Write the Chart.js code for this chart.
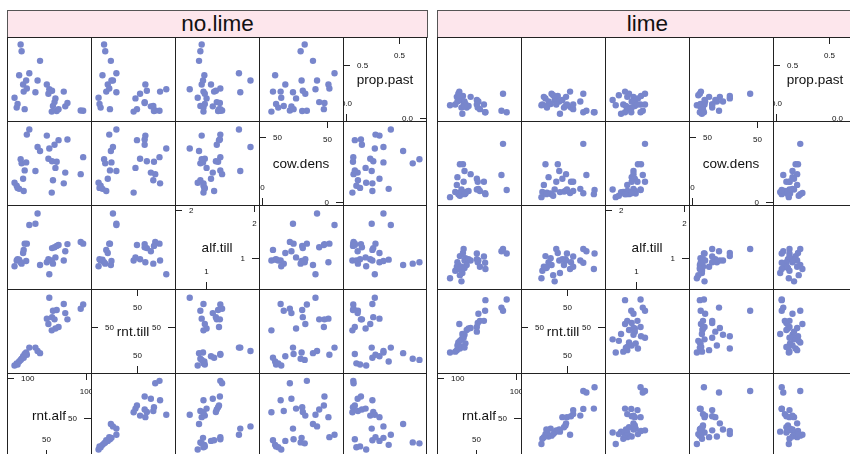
<!DOCTYPE html>
<html>
<head>
<meta charset="utf-8">
<script src="https://cdn.jsdelivr.net/npm/chart.js@4.4.1/dist/chart.umd.min.js"></script>
<style>
  body { margin: 0; background: #fff; width: 850px; height: 454px; overflow: hidden; position: relative;
         font-family: "Liberation Sans", Arial, sans-serif; }
  .strip { position: absolute; top: 10px; height: 28px; width: 421px; box-sizing: border-box;
           background: #fde6ec; border: 1px solid #555; text-align: center;
           font-size: 22.5px; line-height: 26px; color: #111; }
  canvas { position: absolute; }
</style>
</head>
<body>
<div class="strip" style="left:7px">no.lime</div>
<div class="strip" style="left:437px">lime</div>
<script>
// variables, bottom-left to top-right of each scatterplot matrix
const varNames = ['rnt.alf', 'rnt.till', 'alf.till', 'cow.dens', 'prop.past'];
const groupNames = ['no.lime', 'lime'];

// no.lime
const noLimeRntAlf = [54.4, 73.8, 99.8, 96.5, 59.3, 64.3, 75.8, 51.1, 58.1, 61.4, 78.7, 53.2, 66.8, 62.6, 57.7,
  7.8, 10.7, 14.0, 17.3, 19.3, 21.4, 23.4, 27.6, 35.8, 38.7, 42.0, 20.1, 16.0, 11.9, 24.3];
const noLimeRntTill = [75.7, 70.3, 69.8, 66.1, 64.4, 65.0, 62.3, 57.5, 58.8, 56.9, 56.9, 52.9, 50.2, 48.9, 47.3,
  16.8, 18.6, 20.2, 22.6, 24.8, 26.7, 28.0, 32.3, 32.3, 29.3, 27.5, 23.5, 21.6, 17.6, 26.1];
const noLimeAlfTill = [0.62, 0.93, 1.31, 1.35, 0.86, 1.26, 1.14, 0.89, 1.21, 1.23, 1.30, 0.96, 1.28, 1.00, 0.93,
  0.80, 0.93, 0.95, 0.86, 1.10, 1.31, 0.92, 1.73, 1.76, 1.99, 0.83, 1.17, 0.89, 0.96, 1.31];
const noLimeCowDens = [42.2, 13.1, 35.0, 20.8, 15.7, 31.1, 22.1, 53.0, 31.6, 45.3, 49.7, 33.7, 49.2, 26.0, 5.4,
  13.6, 11.1, 8.5, 29.8, 17.0, 23.9, 30.6, 58.1, 23.4, 43.5, 40.1, 6.7, 33.2, 9.3, 53.8];
const noLimePropPast = [0.265, 0.240, 0.043, 0.046, 0.091, 0.040, 0.088, 0.313, 0.249, 0.132, 0.122, 0.218, 0.059, 0.170, 0.034,
  0.176, 0.075, 0.408, 0.656, 0.313, 0.059, 0.354, 0.430, 0.233, 0.354, 0.557, 0.240, 0.725, 0.113, 0.272];

// lime
const limeRntAlf = [15.2, 22.2, 24.3, 28.4, 25.1, 26.3, 27.6, 30.5, 32.5, 31.7, 34.6, 35.8, 37.5, 40.0, 42.8,
  33.4, 28.4, 30.5, 34.6, 51.1, 51.1, 52.3, 53.2, 55.2, 60.6, 62.2, 62.6, 84.1, 86.2, 91.1];
const limeRntTill = [28.0, 28.8, 30.1, 31.5, 34.2, 36.8, 52.9, 39.5, 42.2, 44.1, 43.5, 36.0, 47.6, 48.9, 49.4,
  40.9, 38.2, 32.8, 32.3, 46.2, 50.2, 53.7, 61.8, 55.6, 55.6, 64.4, 73.6, 67.1, 64.4, 74.2];
const limeAlfTill = [0.53, 0.70, 0.79, 1.03, 0.89, 0.83, 0.74, 0.46, 1.10, 0.65, 0.93, 0.98, 0.83, 0.96, 0.93,
  1.19, 0.60, 0.79, 0.76, 0.96, 1.09, 0.89, 0.93, 0.79, 1.02, 0.88, 0.74, 1.14, 1.19, 1.09];
const limeCowDens = [1.6, 5.9, 11.8, 29.1, 18.3, 4.1, 5.0, 8.0, 29.1, 5.8, 23.4, 4.6, 6.2, 6.7, 20.8,
  14.4, 2.8, 5.2, 4.1, 17.0, 8.0, 14.4, 8.5, 6.7, 14.4, 4.8, 4.1, 20.1, 46.1, 7.5];
const limePropPast = [0.100, 0.107, 0.186, 0.170, 0.138, 0.218, 0.240, 0.154, 0.195, 0.011, 0.138, 0.113, 0.075, 0.091, 0.186,
  0.107, 0.202, 0.075, 0.091, 0.154, 0.107, 0.075, 0.138, 0.059, 0.107, 0.027, 0.027, 0.043, 0.218, 0.027];

// axis limits and tick labels per variable (same order as varNames)
const varLimits = [[2, 106], [13, 80.5], [0.36, 2.11], [-2.3, 62.5], [-0.03, 0.77]];
const varTicks = [[50, 100], [50], [1, 2], [0, 50], [0, 0.5]];
const varTickLabels = [['50', '100'], ['50'], ['1', '2'], ['0', '50'], ['0.0', '0.5']];

const groupData = [
  [noLimeRntAlf, noLimeRntTill, noLimeAlfTill, noLimeCowDens, noLimePropPast],
  [limeRntAlf, limeRntTill, limeAlfTill, limeCowDens, limePropPast]
];

const groupLeft = [7, 437];
const top0 = 37;
const cell = 84;
const dotColor = '#7886cc';
const lineColor = '#222';
const FONT = '"Liberation Sans", Arial, sans-serif';

const framePlugin = {
  id: 'frame',
  afterDraw(chart, args, opts) {
    const { ctx, width, height } = chart;
    ctx.save();
    ctx.strokeStyle = lineColor;
    ctx.lineWidth = 1;
    ctx.beginPath();
    ctx.moveTo(0.5, 0); ctx.lineTo(0.5, height);
    ctx.moveTo(0, 0.5); ctx.lineTo(width, 0.5);
    if (opts.lastCol) { ctx.moveTo(width - 0.5, 0); ctx.lineTo(width - 0.5, height); }
    if (opts.lastRow) { ctx.moveTo(0, height - 0.5); ctx.lineTo(width, height - 0.5); }
    ctx.stroke();
    ctx.restore();
  }
};

const diagPlugin = {
  id: 'diag',
  afterDraw(chart, args, opts) {
    if (opts.v === undefined) return;
    const { ctx, chartArea: a, scales: { x, y } } = chart;
    const v = opts.v;
    const w = a.right, h = a.bottom;
    ctx.save();
    ctx.fillStyle = '#111';
    ctx.font = '13.5px ' + FONT;
    ctx.textAlign = 'center';
    ctx.textBaseline = 'middle';
    ctx.fillText(varNames[v], (a.left + a.right) / 2, (a.top + a.bottom) / 2 + 1);

    const at = varTicks[v], labs = varTickLabels[v], n = at.length;
    const lower = at.map((t, i) => i).slice(0, Math.ceil(n / 2));
    const upper = at.map((t, i) => i).slice(Math.floor(n / 2));
    ctx.strokeStyle = lineColor;
    ctx.lineWidth = 1;
    ctx.font = '8px ' + FONT;
    ctx.beginPath();
    upper.forEach(i => {
      const px = Math.round(x.getPixelForValue(at[i])) + 0.5;
      const py = Math.round(y.getPixelForValue(at[i])) + 0.5;
      ctx.moveTo(px, 0); ctx.lineTo(px, 7);
      ctx.moveTo(0, py); ctx.lineTo(7, py);
      ctx.textAlign = 'center';
      ctx.fillText(labs[i], px, 19);
      ctx.textAlign = 'left';
      ctx.fillText(labs[i], 14, py);
    });
    lower.forEach(i => {
      const px = Math.round(x.getPixelForValue(at[i])) + 0.5;
      const py = Math.round(y.getPixelForValue(at[i])) + 0.5;
      ctx.moveTo(px, h); ctx.lineTo(px, h - 7);
      ctx.moveTo(w, py); ctx.lineTo(w - 7, py);
      ctx.textAlign = 'center';
      ctx.fillText(labs[i], px, h - 17);
      ctx.textAlign = 'right';
      ctx.fillText(labs[i], w - 14, py);
    });
    ctx.stroke();
    ctx.restore();
  }
};

groupNames.forEach((g, gi) => {
  const vars = groupData[gi];
  for (let r = 0; r < 5; r++) {
    for (let c = 0; c < 5; c++) {
      const xv = c, yv = 4 - r;
      const canvas = document.createElement('canvas');
      canvas.width = cell; canvas.height = cell;
      canvas.style.left = (groupLeft[gi] + c * cell) + 'px';
      canvas.style.top = (top0 + r * cell) + 'px';
      canvas.style.width = cell + 'px';
      canvas.style.height = cell + 'px';
      document.body.appendChild(canvas);

      const diag = xv === yv;
      const pts = diag ? [] : vars[xv].map((xval, i) => ({ x: xval, y: vars[yv][i] }));

      new Chart(canvas, {
        type: 'scatter',
        data: {
          datasets: [{
            data: pts,
            pointRadius: 3.2,
            pointHoverRadius: 3.2,
            pointBackgroundColor: dotColor,
            pointBorderWidth: 0,
            clip: false
          }]
        },
        options: {
          responsive: false,
          animation: false,
          devicePixelRatio: 1,
          events: [],
          layout: { padding: 0 },
          plugins: {
            legend: { display: false },
            tooltip: { enabled: false },
            frame: { lastCol: c === 4, lastRow: r === 4 },
            diag: diag ? { v: xv } : {}
          },
          scales: {
            x: { type: 'linear', min: varLimits[xv][0], max: varLimits[xv][1], display: false },
            y: { type: 'linear', min: varLimits[yv][0], max: varLimits[yv][1], display: false }
          }
        },
        plugins: [framePlugin, diagPlugin]
      });
    }
  }
});
</script>
</body>
</html>
